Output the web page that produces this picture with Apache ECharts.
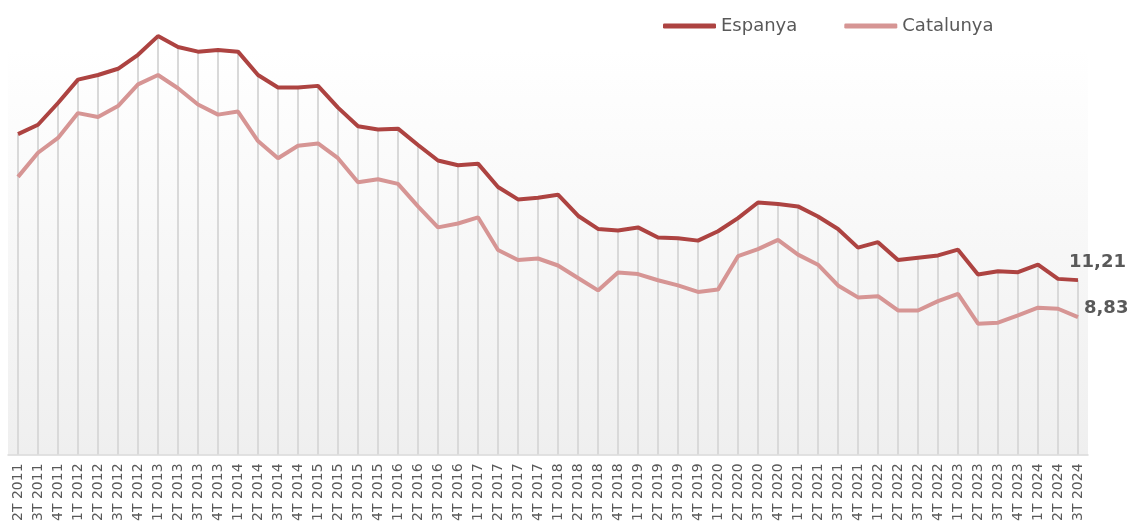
<!DOCTYPE html>
<html>
<head>
<meta charset="utf-8">
<script src="https://cdn.jsdelivr.net/npm/echarts@6/dist/echarts.min.js"></script>
<style>
  html, body { margin: 0; padding: 0; background: #ffffff; }
  #chart { width: 1130px; height: 524px; }
</style>
</head>
<body>
<div id="chart"></div>
<script>
// trimestres 2T 2011 - 3T 2024
const quarters = [];
for (let y = 2011; y <= 2024; y++) {
  for (let q = 1; q <= 4; q++) {
    if (y === 2011 && q === 1) continue;
    if (y === 2024 && q === 4) continue;
    quarters.push(q + 'T ' + y);
  }
}

// taxa d'atur (%)
const espanya = [
  20.6, 21.2, 22.6, 24.1, 24.4, 24.8, 25.7, 26.9, 26.2, 25.9, 26.0, 25.9,
  24.4, 23.6, 23.6, 23.7, 22.3, 21.1, 20.9, 20.95, 19.9, 18.9, 18.6, 18.7,
  17.2, 16.4, 16.5, 16.7, 15.35, 14.5, 14.4, 14.6, 13.95, 13.9, 13.75, 14.35,
  15.2, 16.2, 16.1, 15.95, 15.3, 14.5, 13.3, 13.65, 12.5, 12.65, 12.8, 13.17,
  11.57, 11.78, 11.72, 12.21, 11.29, 11.21
];
const catalunya = [
  17.85, 19.4, 20.35, 21.95, 21.7, 22.4, 23.8, 24.4, 23.55, 22.5, 21.85, 22.05,
  20.15, 19.05, 19.85, 20.0, 19.05, 17.5, 17.7, 17.4, 15.95, 14.6, 14.85, 15.25,
  13.15, 12.5, 12.6, 12.15, 11.35, 10.55, 11.7, 11.6, 11.2, 10.87, 10.45, 10.6,
  12.75, 13.2, 13.8, 12.85, 12.2, 10.87, 10.1, 10.18, 9.26, 9.26, 9.86, 10.33,
  8.41, 8.47, 8.94, 9.44, 9.37, 8.83
];

const chart = echarts.init(document.getElementById('chart'));
const fmt = v => Number(v).toFixed(2).replace('.', ',');

const endLabel = {
  show: true,
  fontFamily: 'DejaVu Sans',
  fontSize: 18,
  fontWeight: 'bold',
  color: '#595959',
  valueAnimation: false,
  formatter: p => fmt(p.value)
};

chart.setOption({
  animation: false,
  textStyle: {fontFamily: 'DejaVu Sans'},
  legend: {
    left: 658,
    top: 12,
    icon: 'roundRect',
    itemWidth: 53,
    itemHeight: 5,
    itemGap: 47,
    textStyle: {fontSize: 18, color: '#595959', fontFamily: 'DejaVu Sans'},
    data: ['Espanya', 'Catalunya']
  },
  grid: {
    left: 8,
    right: 42,
    top: 19,
    bottom: 68,
    show: true,
    borderWidth: 0,
    backgroundColor: new echarts.graphic.LinearGradient(0, 0, 0, 1, [
      {offset: 0, color: '#ffffff'},
      {offset: 0.07, color: '#ffffff'},
      {offset: 1, color: '#efefef'}
    ])
  },
  xAxis: {
    type: 'category',
    data: quarters,
    boundaryGap: true,
    axisLine: {lineStyle: {color: '#d9d9d9', width: 1.5}},
    axisTick: {show: false},
    axisLabel: {
      interval: 0,
      rotate: 90,
      fontSize: 14,
      color: '#595959',
      margin: 9
    },
    splitLine: {show: false}
  },
  yAxis: {
    type: 'value',
    min: 0,
    max: 28,
    show: false,
    splitLine: {show: false}
  },
  series: [
    {
      // línies de caiguda des de la sèrie Espanya fins a l'eix
      name: 'drop',
      type: 'bar',
      barWidth: 2,
      silent: true,
      z: 1,
      itemStyle: {color: '#d9d9d9'},
      data: espanya
    },
    {
      name: 'Espanya',
      type: 'line',
      symbol: 'none',
      z: 3,
      lineStyle: {width: 4, color: '#ad4341'},
      itemStyle: {color: '#ad4341'},
      endLabel: Object.assign({}, endLabel, {offset: [-17, -18]}),
      data: espanya
    },
    {
      name: 'Catalunya',
      type: 'line',
      symbol: 'none',
      z: 2,
      lineStyle: {width: 4, color: '#d69594'},
      itemStyle: {color: '#d69594'},
      endLabel: Object.assign({}, endLabel, {offset: [-2, -9]}),
      data: catalunya
    }
  ]
});
</script>
</body>
</html>
